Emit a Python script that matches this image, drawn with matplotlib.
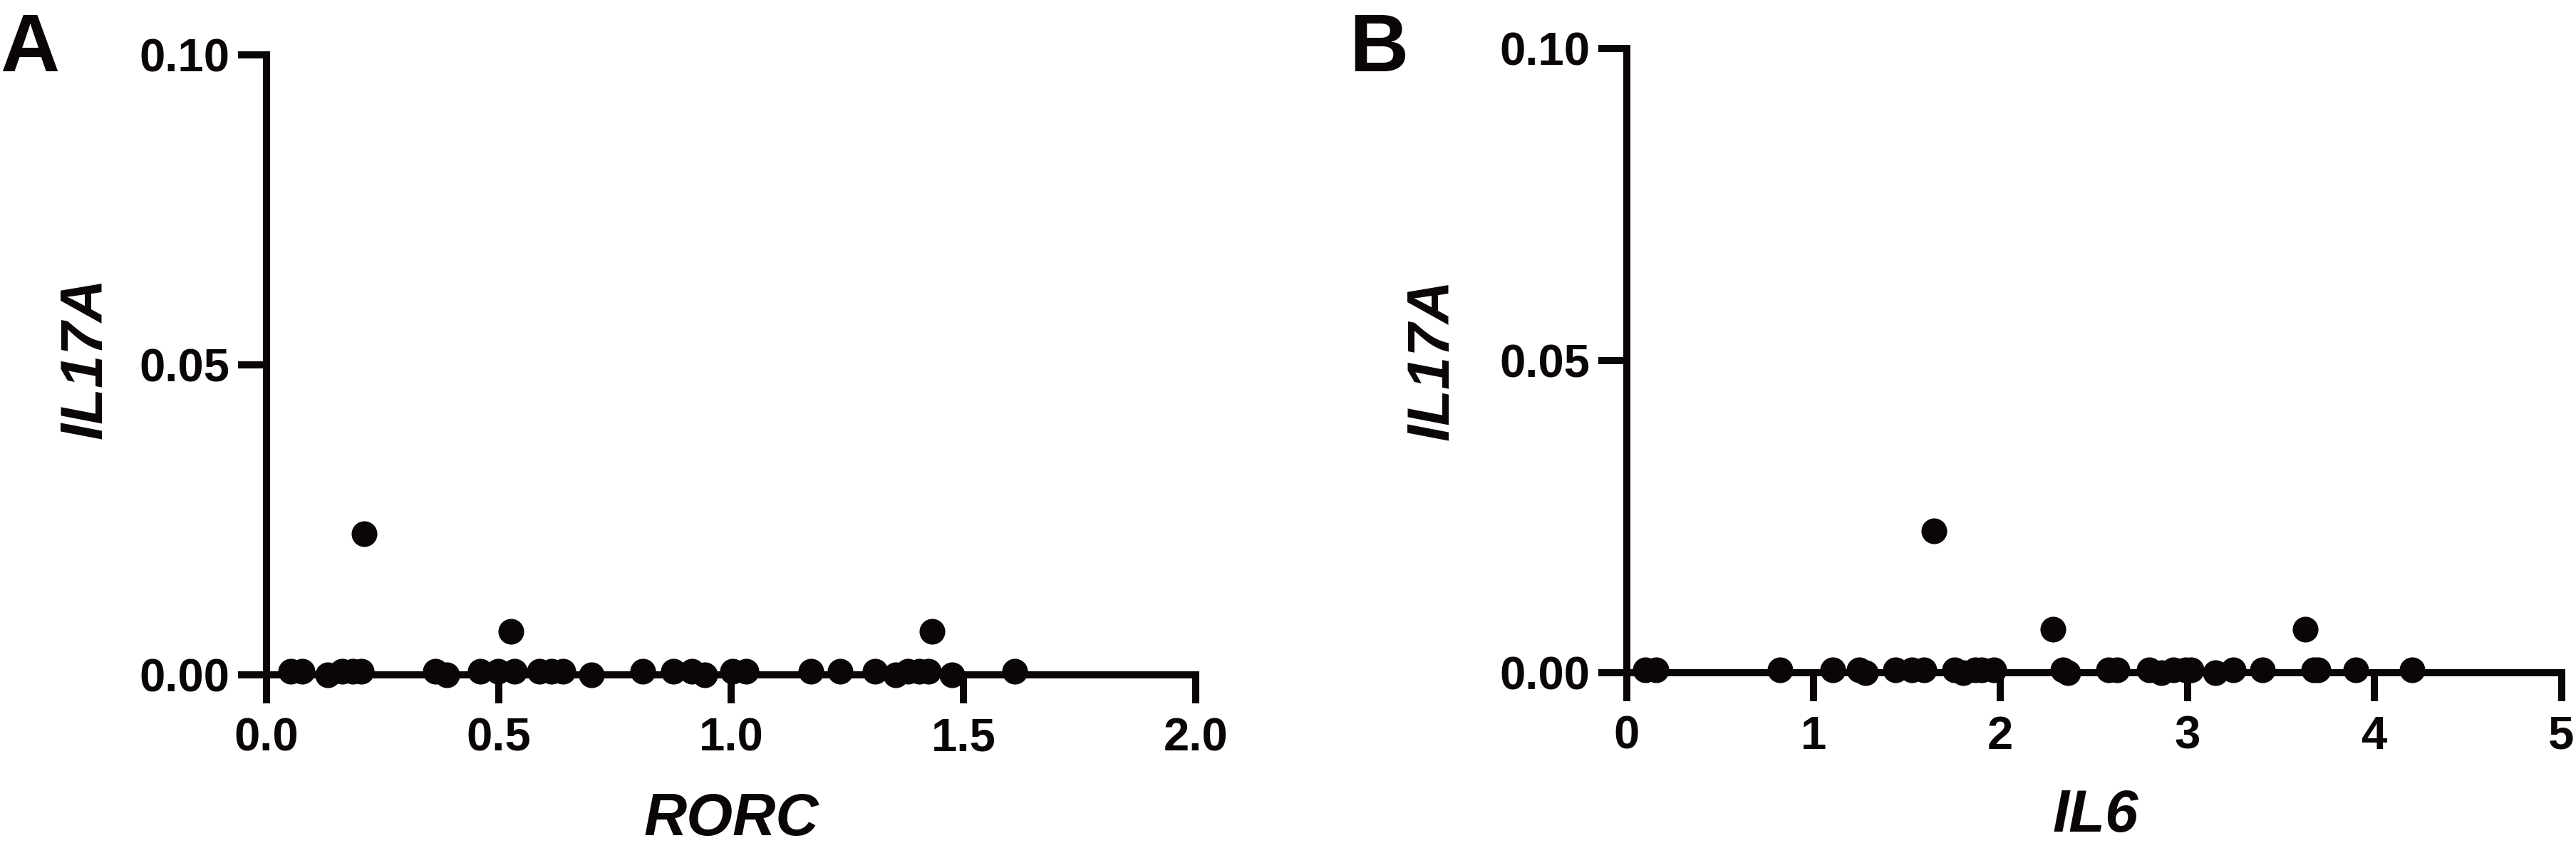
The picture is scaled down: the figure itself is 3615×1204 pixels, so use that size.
import matplotlib.pyplot as plt

# Цвет "почти чёрный", как в исходнике
ink = '#0a0606'

# Панель A: RORC против IL17A
rorc_x = [0.052, 0.076, 0.132, 0.163, 0.186, 0.204, 0.210, 0.363, 0.388, 0.460, 0.499,
          0.526, 0.534, 0.588, 0.614, 0.638, 0.699, 0.810, 0.875, 0.915, 0.944, 1.003,
          1.032, 1.172, 1.235, 1.310, 1.355, 1.380, 1.405, 1.425, 1.433, 1.475, 1.610]
rorc_y = [0.0005, 0.0005, 0.0, 0.0005, 0.0005, 0.0005, 0.0227, 0.0005, 0.0, 0.0005, 0.0005,
          0.0070, 0.0005, 0.0005, 0.0005, 0.0005, 0.0, 0.0005, 0.0005, 0.0005, 0.0, 0.0005,
          0.0005, 0.0005, 0.0005, 0.0005, 0.0, 0.0005, 0.0005, 0.0005, 0.0070, 0.0, 0.0005]

# Панель B: IL6 против IL17A
il6_x = [0.10, 0.16, 0.82, 1.105, 1.245, 1.28, 1.44, 1.525, 1.59, 1.645, 1.755,
         1.80, 1.865, 1.90, 1.965, 2.282, 2.335, 2.36, 2.58, 2.625, 2.795, 2.86,
         2.925, 2.99, 3.02, 3.15, 3.245, 3.40, 3.631, 3.675, 3.70, 3.90, 4.20]
il6_y = [0.0005, 0.0005, 0.0005, 0.0005, 0.0005, 0.0, 0.0005, 0.0005, 0.0005, 0.0227, 0.0005,
         0.0, 0.0005, 0.0005, 0.0005, 0.0070, 0.0005, 0.0, 0.0005, 0.0005, 0.0005, 0.0,
         0.0005, 0.0005, 0.0005, 0.0, 0.0005, 0.0005, 0.0070, 0.0005, 0.0005, 0.0005, 0.0005]

y_ticks = [0.00, 0.05, 0.10]
y_ticklabels = ['0.00', '0.05', '0.10']
rorc_ticks = [0.0, 0.5, 1.0, 1.5, 2.0]
rorc_ticklabels = ['0.0', '0.5', '1.0', '1.5', '2.0']
il6_ticks = [0, 1, 2, 3, 4, 5]
il6_ticklabels = ['0', '1', '2', '3', '4', '5']

plt.rcParams['font.family'] = ['Liberation Sans', 'DejaVu Sans']
plt.rcParams['font.weight'] = 'bold'

W, H = 3615, 1204
fig = plt.figure(figsize=(W / 100, H / 100), dpi=100)

def px(x, y):
    # пиксели -> доли фигуры
    return x / W, 1 - y / H

def make_panel(rect, xs, ys, xticks, xticklabels, xmax):
    ax = fig.add_axes(rect)
    ax.plot(xs, ys, 'o', color=ink, markersize=26, markeredgewidth=0, clip_on=False, zorder=5)
    ax.set_xlim(0, xmax)
    ax.set_ylim(0, 0.10)
    ax.set_xticks(xticks)
    ax.set_xticklabels(xticklabels)
    ax.set_yticks(y_ticks)
    ax.set_yticklabels(y_ticklabels)
    for s in ['top', 'right']:
        ax.spines[s].set_visible(False)
    for s in ['left', 'bottom']:
        ax.spines[s].set_linewidth(7.2)
        ax.spines[s].set_color(ink)
    ax.tick_params(axis='both', length=29, width=7.2, color=ink, labelsize=47, labelcolor=ink)
    ax.tick_params(axis='x', pad=14)
    ax.tick_params(axis='y', pad=8)
    for lab in ax.get_xticklabels() + ax.get_yticklabels():
        lab.set_fontweight('bold')
    return ax

# Оси A
l, b = px(374, 946.7)
r, t = px(1678, 76.7)
make_panel([l, b, r - l, t - b], rorc_x, rorc_y, rorc_ticks, rorc_ticklabels, 2.0)

# Оси B
l, b = px(2282.5, 944)
r, t = px(3594.5, 68.3)
make_panel([l, b, r - l, t - b], il6_x, il6_y, il6_ticks, il6_ticklabels, 5)

# Подписи осей
lab_kw = dict(fontsize=60, fontweight='bold', fontstyle='italic', color=ink)
fig.text(*px(1026, 1172), 'RORC', ha='center', va='baseline', **lab_kw)
fig.text(*px(2941, 1167), 'IL6', ha='center', va='baseline', **lab_kw)
fig.text(*px(143, 503), 'IL17A', rotation=90, rotation_mode='anchor',
         ha='center', va='baseline', **lab_kw)
fig.text(*px(2033, 505), 'IL17A', rotation=90, rotation_mode='anchor',
         ha='center', va='baseline', **lab_kw)

# Буквы панелей
fig.text(*px(0, 100), 'A', ha='left', va='baseline', fontsize=83, fontweight='bold', color=ink)
fig.text(*px(1893, 100), 'B', ha='left', va='baseline', fontsize=83, fontweight='bold', color=ink)

fig.savefig('out.png', dpi=100, facecolor='white')
